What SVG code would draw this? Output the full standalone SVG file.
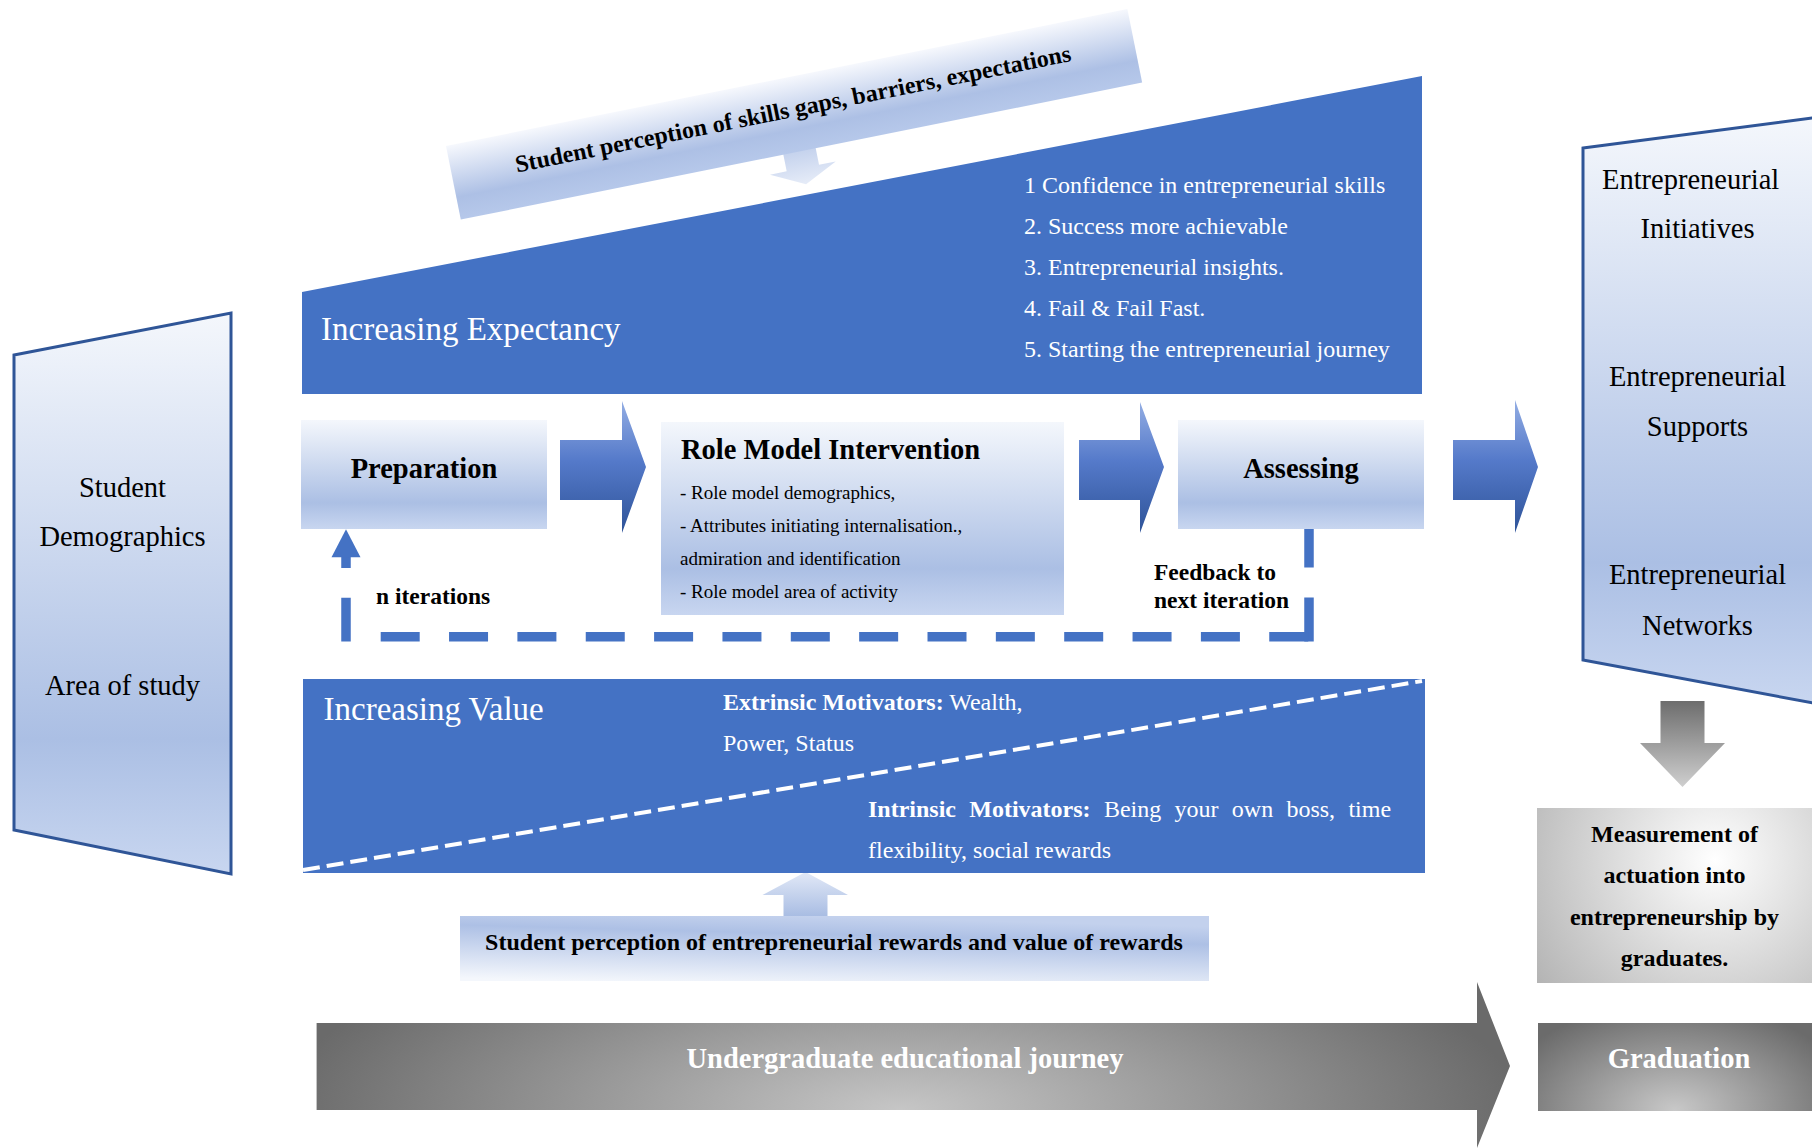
<svg xmlns="http://www.w3.org/2000/svg" width="1812" height="1148" viewBox="0 0 1812 1148">
  <style>
    text { font-family: "Liberation Serif", "Times New Roman", serif; }
    .b { font-weight: bold; }
    .w { fill: #ffffff; }
    .k { fill: #000000; }
    .mid { text-anchor: middle; }
    .blue { fill: #4472c4; }
    .panel { fill: url(#gLight); stroke: #2f5597; stroke-width: 3; }
    .box { fill: url(#gLight); }
    .loop { fill: none; stroke: #4472c4; stroke-width: 9.5; }
  </style>
  <defs>
    <linearGradient id="gLight" x1="0" y1="0" x2="0" y2="1">
      <stop offset="0" stop-color="#f4f7fc"/>
      <stop offset="0.76" stop-color="#abbfe4"/>
      <stop offset="1" stop-color="#c8d6f0"/>
    </linearGradient>
    <linearGradient id="gBanner" x1="0" y1="0" x2="0" y2="1">
      <stop offset="0" stop-color="#f6f8fd"/>
      <stop offset="0.7" stop-color="#adc0e5"/>
      <stop offset="1" stop-color="#b6c8ea"/>
    </linearGradient>
    <linearGradient id="gRewards" x1="0.15" y1="1" x2="0.45" y2="0">
      <stop offset="0" stop-color="#f4f7fc"/>
      <stop offset="0.75" stop-color="#adc0e5"/>
      <stop offset="1" stop-color="#c3d1ed"/>
    </linearGradient>
    <linearGradient id="gSmall" x1="0" y1="0" x2="0" y2="1">
      <stop offset="0" stop-color="#b2c4e7"/>
      <stop offset="1" stop-color="#e6ecf8"/>
    </linearGradient>
    <linearGradient id="gSmallUp" x1="0" y1="0" x2="0" y2="1">
      <stop offset="0" stop-color="#e2e9f7"/>
      <stop offset="1" stop-color="#a9bde3"/>
    </linearGradient>
    <linearGradient id="gArrow" x1="0" y1="0" x2="0" y2="1">
      <stop offset="0" stop-color="#93ade3"/>
      <stop offset="0.45" stop-color="#557aca"/>
      <stop offset="1" stop-color="#2e5398"/>
    </linearGradient>
    <linearGradient id="gGrayDown" x1="0" y1="0" x2="0" y2="1">
      <stop offset="0" stop-color="#6d6d6d"/>
      <stop offset="1" stop-color="#cfcfcf"/>
    </linearGradient>
    <radialGradient id="gJourney" gradientUnits="userSpaceOnUse" cx="900" cy="1110" r="620" gradientTransform="translate(900 1110) scale(1 0.32) translate(-900 -1110)">
      <stop offset="0" stop-color="#c6c6c6"/>
      <stop offset="1" stop-color="#6a6a6a"/>
    </radialGradient>
    <radialGradient id="gGrad" gradientUnits="userSpaceOnUse" cx="1675" cy="1110" r="180" gradientTransform="translate(1675 1110) scale(1 0.6) translate(-1675 -1110)">
      <stop offset="0" stop-color="#c8c8c8"/>
      <stop offset="1" stop-color="#6b6b6b"/>
    </radialGradient>
    <radialGradient id="gMeasure" gradientUnits="userSpaceOnUse" cx="1715" cy="860" r="250">
      <stop offset="0" stop-color="#ffffff"/>
      <stop offset="1" stop-color="#a8a8a8"/>
    </radialGradient>
  </defs>

  <!-- connectors: block arrows, feedback loop and pointer arrows -->
  <g id="connectors">
    <!-- pointer from the skills perception banner -->
    <g transform="translate(446 146) rotate(-11.37)">
      <path d="M329 55H362V92H379L345.5 108.5L312 92H329Z" fill="url(#gSmall)"/>
    </g>
    <!-- stage arrows -->
    <path d="M560 440H622V401L646 467L622 533V500H560Z" fill="url(#gArrow)"/>
    <path d="M1079 440H1140V402L1164 467L1140 533V500H1079Z" fill="url(#gArrow)"/>
    <path d="M1453 440H1515V400L1538 467L1515 533V500H1453Z" fill="url(#gArrow)"/>
    <!-- feedback loop -->
    <path class="loop" d="M1309 529V567.5M1309 597.5V641.5"/>
    <line class="loop" x1="380.7" y1="636.7" x2="1309" y2="636.7" stroke-dasharray="39 29.35"/>
    <path class="loop" d="M346 597.7V641.5M346 557V568"/>
    <path d="M346 529.3L360.5 557.3H331.5Z" fill="#4472c4"/>
    <!-- pointer into increasing value -->
    <path d="M783.5 916V895H762.5L805.5 872L848 895H827.5V916Z" fill="url(#gSmallUp)"/>
    <!-- outcome arrow -->
    <path d="M1660.5 701H1704.5V743H1725L1682.5 787L1640 743H1660.5Z" fill="url(#gGrayDown)"/>
  </g>

  <!-- student profile -->
  <g id="student-profile">
    <polygon class="panel" points="14,355 231,313 231,874 14,830"/>
    <text class="k mid" x="122.5" y="497" font-size="28.5">Student</text>
    <text class="k mid" x="122.5" y="546" font-size="28.5">Demographics</text>
    <text class="k mid" x="122.5" y="695" font-size="28.5">Area of study</text>
  </g>

  <!-- increasing expectancy -->
  <g id="expectancy">
    <polygon class="blue" points="302,292 1422,76 1422,394 302,394"/>
    <text class="w" x="321" y="340" font-size="33">Increasing Expectancy</text>
    <text class="w" x="1024" y="193" font-size="24">1 Confidence in entrepreneurial skills</text>
    <text class="w" x="1024" y="234" font-size="24">2. Success more achievable</text>
    <text class="w" x="1024" y="275" font-size="24">3. Entrepreneurial insights.</text>
    <text class="w" x="1024" y="316" font-size="24">4. Fail &amp; Fail Fast.</text>
    <text class="w" x="1024" y="357" font-size="24">5. Starting the entrepreneurial journey</text>
  </g>

  <!-- skills perception banner -->
  <g id="skills-perception" transform="translate(446 146) rotate(-11.37)">
    <rect width="695" height="75" fill="url(#gBanner)"/>
    <text class="k b mid" x="347.5" y="40" font-size="24">Student perception of skills gaps, barriers, expectations</text>
  </g>

  <!-- stages -->
  <g id="preparation">
    <rect class="box" x="301" y="420" width="246" height="109"/>
    <text class="k b mid" x="424" y="478" font-size="28.5">Preparation</text>
  </g>
  <g id="role-model">
    <rect class="box" x="661" y="422" width="403" height="193"/>
    <text class="k b" x="681" y="459" font-size="28.5">Role Model Intervention</text>
    <text class="k" x="680" y="499" font-size="19">- Role model demographics,</text>
    <text class="k" x="680" y="532" font-size="19">- Attributes initiating internalisation.,</text>
    <text class="k" x="680" y="565" font-size="19">admiration and identification</text>
    <text class="k" x="680" y="598" font-size="19">- Role model area of activity</text>
  </g>
  <g id="assessing">
    <rect class="box" x="1178" y="420" width="246" height="109"/>
    <text class="k b mid" x="1301" y="478" font-size="28.5">Assessing</text>
  </g>

  <!-- loop labels -->
  <g id="loop-labels">
    <text class="k b" x="376" y="604" font-size="23.5">n iterations</text>
    <text class="k b" x="1154" y="580" font-size="23.5">Feedback to</text>
    <text class="k b" x="1154" y="608" font-size="23.5">next iteration</text>
  </g>

  <!-- increasing value -->
  <g id="value">
    <rect class="blue" x="303" y="679" width="1122" height="194"/>
    <line x1="303" y1="870" x2="1422" y2="681" stroke="#ffffff" stroke-width="4" stroke-dasharray="17 7"/>
    <text class="w" x="323.5" y="720" font-size="33">Increasing Value</text>
    <text class="w" x="723" y="710" font-size="24"><tspan class="b">Extrinsic Motivators:</tspan> Wealth,</text>
    <text class="w" x="723" y="751" font-size="24">Power, Status</text>
    <!-- justified line: words placed individually -->
    <text class="w" y="817" font-size="24"><tspan class="b" x="868">Intrinsic</tspan><tspan class="b" x="969.3">Motivators:</tspan><tspan x="1103.9">Being</tspan><tspan x="1174.5">your</tspan><tspan x="1231.8">own</tspan><tspan x="1286.4">boss,</tspan><tspan x="1348.4">time</tspan></text>
    <text class="w" x="868" y="858" font-size="24">flexibility, social rewards</text>
  </g>

  <!-- rewards perception -->
  <g id="rewards-perception">
    <rect x="460" y="916" width="749" height="65" fill="url(#gRewards)"/>
    <text class="k b mid" x="834" y="950" font-size="24">Student perception of entrepreneurial rewards and value of rewards</text>
  </g>

  <!-- entrepreneurial outcomes -->
  <g id="outcomes">
    <polygon class="panel" points="1583,148 1816,117.5 1816,703.5 1583,660"/>
    <text class="k mid" x="1690.6" y="189" font-size="28.5">Entrepreneurial</text>
    <text class="k mid" x="1697.5" y="238" font-size="28.5">Initiatives</text>
    <text class="k mid" x="1697.5" y="386" font-size="28.5">Entrepreneurial</text>
    <text class="k mid" x="1697.5" y="436" font-size="28.5">Supports</text>
    <text class="k mid" x="1697.5" y="584" font-size="28.5">Entrepreneurial</text>
    <text class="k mid" x="1697.5" y="635" font-size="28.5">Networks</text>
  </g>

  <!-- measurement -->
  <g id="measurement">
    <rect x="1537" y="808" width="275" height="175" fill="url(#gMeasure)"/>
    <text class="k b mid" x="1674.5" y="842" font-size="24">Measurement of</text>
    <text class="k b mid" x="1674.5" y="883" font-size="24">actuation into</text>
    <text class="k b mid" x="1674.5" y="925" font-size="24">entrepreneurship by</text>
    <text class="k b mid" x="1674.5" y="966" font-size="24">graduates.</text>
  </g>

  <!-- educational journey -->
  <g id="journey">
    <path d="M316.6 1023H1477V982L1510 1066L1477 1148V1110H316.6Z" fill="url(#gJourney)"/>
    <text class="w b mid" x="905" y="1068" font-size="28.5">Undergraduate educational journey</text>
  </g>

  <!-- graduation -->
  <g id="graduation">
    <rect x="1538" y="1023" width="274" height="88" fill="url(#gGrad)"/>
    <text class="w b mid" x="1679" y="1068" font-size="28.5">Graduation</text>
  </g>
</svg>
